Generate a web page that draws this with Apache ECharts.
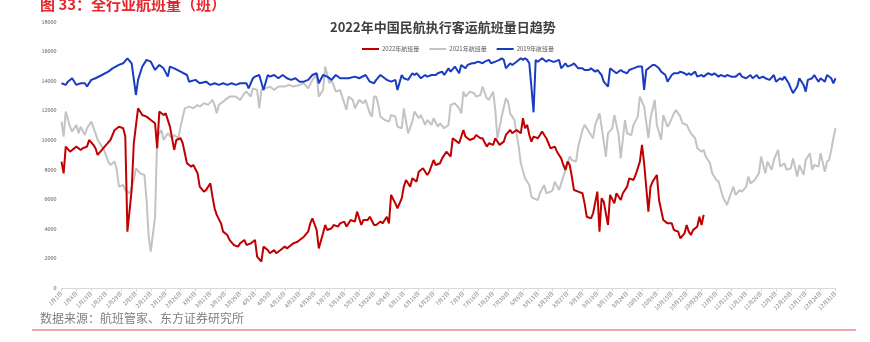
<!DOCTYPE html>
<html><head><meta charset="utf-8">
<script src="https://cdn.jsdelivr.net/npm/echarts@6/dist/echarts.min.js"></script>
<style>html,body{margin:0;padding:0;background:#fff;}#c{width:870px;height:342px;}</style>
</head><body><div id="c"></div>
<script>
// y-axis tick settings (values)
const yMin = 0, yMax = 18000, yStep = 2000;
const seriesNames = ['2022年航班量', '2021年航班量', '2019年航班量'];
// [day-of-year index (0 = 1月1日), flights]
const s2022 = [[0,8570],[1,7780],[2,9580],[4,9240],[5,9360],[7,9580],[9,9360],[10,9470],[12,9580],[13,10030],[15,9700],[16,9470],[17,9020],[19,9360],[21,9700],[23,10030],[25,10710],[27,10930],[29,10820],[30,10260],[31,3840],[33,6650],[34,9810],[36,12170],[38,11720],[40,11610],[42,11380],[44,11160],[45,9470],[46,11950],[48,11720],[49,11830],[51,10930],[53,9360],[54,10030],[56,10150],[57,9810],[59,8460],[61,8230],[62,8340],[64,7780],[65,6880],[67,6540],[68,6660],[70,7100],[71,6200],[72,5420],[73,4970],[75,4400],[76,3840],[78,3610],[79,3280],[81,2940],[83,2830],[84,3050],[86,3280],[87,2940],[89,3050],[90,3160],[91,3280],[92,2150],[94,1810],[95,2830],[97,2600],[98,2380],[100,2600],[101,2380],[103,2600],[105,2830],[106,2710],[108,2940],[109,3050],[111,3160],[112,3280],[114,3500],[116,3840],[117,4400],[118,4740],[120,3950],[121,2710],[123,3730],[124,4290],[125,3950],[127,4070],[128,4290],[130,4180],[131,4400],[133,4520],[134,4180],[136,4630],[138,4520],[139,5190],[141,4290],[142,4630],[144,4630],[145,4850],[147,4290],[148,4290],[150,4520],[151,4400],[153,4850],[154,4400],[155,6320],[157,5750],[158,5420],[160,6090],[161,6880],[162,7330],[164,6880],[165,7440],[167,7220],[168,7890],[170,8120],[172,7670],[173,7890],[175,8680],[176,8340],[178,8460],[179,8790],[181,9240],[183,8910],[184,10150],[186,9920],[187,9810],[189,10710],[190,10260],[192,10030],[194,10150],[195,10370],[197,10150],[198,10150],[200,9580],[201,9810],[203,9700],[204,10150],[206,9700],[208,9920],[209,10370],[211,10710],[212,10480],[214,10710],[216,10480],[217,11500],[218,10820],[219,11050],[220,10370],[221,9920],[222,10260],[224,10150],[225,10370],[226,10600],[228,10150],[229,9810],[230,9470],[232,9580],[233,9240],[235,8790],[236,8340],[237,8010],[238,8570],[239,8340],[240,7560],[241,6650],[243,6540],[245,6430],[246,5750],[247,4850],[249,4740],[250,5080],[252,6540],[253,3840],[254,6090],[255,5870],[257,4290],[258,6320],[260,5750],[261,6430],[263,5980],[264,6430],[266,6880],[267,7440],[269,7330],[270,7670],[272,8570],[273,9700],[274,8460],[276,5190],[277,6880],[278,7220],[280,7670],[281,5980],[283,4630],[285,4400],[287,4400],[288,3950],[290,3840],[291,3390],[293,3730],[294,4290],[295,3840],[296,3610],[297,3950],[299,4180],[300,4850],[301,4290],[302,4970]];
const s2021 = [[0,11270],[1,10260],[2,11950],[4,10930],[5,10600],[7,11050],[8,10480],[9,10930],[11,10370],[12,10820],[14,11270],[16,10480],[17,10030],[19,9580],[20,9360],[22,8570],[23,8340],[25,8570],[26,8010],[27,6880],[29,6990],[30,6650],[32,6430],[34,7330],[35,8120],[37,7780],[39,7670],[40,5980],[41,3500],[42,2490],[44,4850],[45,10260],[47,10710],[48,10030],[50,10480],[52,10150],[53,10370],[55,10150],[56,10930],[58,12170],[60,12280],[62,12170],[64,12400],[65,12280],[67,12510],[69,12400],[71,12740],[72,12400],[73,11830],[74,12400],[76,12620],[77,12740],[79,12960],[82,12960],[84,12740],[86,13190],[87,13300],[89,12960],[90,13520],[92,13410],[93,12170],[94,13410],[96,13520],[98,13640],[100,13410],[102,13640],[105,13640],[107,13750],[109,13640],[112,13750],[114,13860],[116,13520],[118,14090],[120,14420],[121,12960],[123,13410],[124,14990],[126,13860],[127,14090],[129,13300],[131,13410],[132,12960],[134,12060],[135,12960],[137,12740],[138,12170],[140,12740],[142,12510],[143,12740],[145,11830],[146,11610],[147,12960],[148,12960],[149,12400],[150,11610],[152,11380],[154,11270],[155,11720],[157,11610],[158,10930],[160,10820],[161,12170],[163,10480],[165,11270],[166,11950],[168,11500],[169,11720],[171,11050],[172,11380],[174,11050],[175,11500],[177,10930],[178,11160],[180,10820],[182,11050],[183,12400],[185,12510],[187,12170],[188,11830],[189,13300],[190,12960],[192,13300],[194,13190],[195,12960],[197,13070],[198,13640],[200,12850],[201,12740],[203,13300],[204,12060],[205,10150],[207,11610],[209,12850],[210,12620],[211,11830],[213,11380],[215,9580],[216,8460],[218,7440],[220,6990],[221,6200],[222,6090],[224,5980],[225,6430],[227,6990],[228,6430],[230,6540],[231,6650],[232,7220],[234,6650],[235,7100],[237,8010],[239,8910],[240,8680],[242,8570],[243,9580],[245,10710],[246,11050],[248,10600],[250,10150],[251,11050],[253,11830],[254,10930],[256,8910],[257,10480],[259,10820],[260,11720],[262,10370],[263,8790],[265,11380],[266,10480],[268,10370],[269,11050],[271,11610],[272,12960],[274,12280],[276,10150],[277,11500],[279,12740],[280,11050],[282,10030],[283,11720],[285,10930],[286,11160],[288,11830],[289,12060],[291,11610],[292,11160],[294,11050],[296,10480],[298,10150],[299,9470],[301,9240],[302,9360],[303,8910],[305,8460],[306,7780],[308,7330],[309,7220],[311,6200],[313,5640],[314,6090],[316,6880],[317,6320],[319,6650],[320,6540],[322,6880],[323,7560],[324,7100],[326,7330],[328,7780],[329,8910],[331,7780],[332,8570],[334,8010],[335,8680],[337,9360],[338,8230],[340,8460],[341,8010],[343,8120],[344,8790],[346,7560],[347,8340],[349,7670],[350,8680],[352,9130],[353,8010],[354,8340],[356,8230],[357,9130],[359,7890],[360,8570],[361,8680],[362,9360],[363,10150],[364,10820]];
const s2019 = [[0,13860],[2,13750],[3,13970],[5,14200],[7,13750],[9,13860],[11,13860],[12,13640],[14,14090],[16,14200],[19,14420],[22,14650],[24,14870],[27,15100],[29,15210],[31,15550],[33,15210],[35,13070],[36,14090],[38,14990],[40,15440],[42,15320],[44,14760],[46,15100],[48,14870],[50,14310],[51,14990],[53,14870],[56,14650],[59,14420],[60,13970],[63,14090],[65,13860],[68,13970],[70,13750],[72,13860],[74,13750],[76,13860],[78,13750],[80,13860],[82,13750],[84,13860],[87,13860],[88,13520],[90,14200],[91,14310],[93,14420],[95,13410],[97,14420],[98,14310],[100,14420],[102,14200],[104,14420],[106,14200],[108,14090],[110,14200],[112,13970],[114,13970],[116,14090],[118,14420],[120,14540],[121,13860],[123,14420],[125,14310],[127,14090],[129,14420],[131,14200],[133,14200],[135,14200],[138,14310],[140,14200],[143,14420],[145,13970],[147,13860],[148,14090],[150,14420],[152,14200],[153,14090],[155,13970],[157,14090],[158,13410],[160,14420],[161,14200],[163,14090],[165,14540],[166,14420],[167,14540],[169,14200],[171,14420],[172,14310],[174,14420],[176,14420],[177,14540],[179,14650],[180,14420],[182,14870],[183,14650],[185,14990],[187,14540],[188,15100],[190,14870],[191,15100],[193,15210],[194,15210],[196,15320],[198,15210],[199,15320],[201,15440],[202,15210],[204,15320],[206,15440],[207,15550],[208,15440],[209,14870],[211,15210],[212,15100],[214,15320],[216,15550],[217,15440],[218,15550],[219,15440],[220,15210],[221,13600],[222,11900],[223,15440],[224,15320],[226,15550],[228,15320],[229,15440],[231,15320],[232,15320],[234,15440],[235,14870],[237,15210],[238,14990],[240,15100],[241,15210],[243,14870],[245,14870],[246,14760],[248,14760],[249,14870],[251,14650],[252,14760],[254,14420],[255,13970],[257,13640],[258,14870],[259,14760],[261,14540],[263,14760],[264,14650],[266,14540],[267,14760],[269,14870],[271,14990],[273,14990],[274,13410],[275,14760],[276,14870],[278,15100],[279,15100],[281,14870],[282,14650],[284,14420],[285,13970],[287,14420],[288,14540],[290,14540],[291,14650],[293,14540],[294,14420],[295,14540],[296,14420],[298,14650],[299,14310],[301,14420],[302,14310],[304,14540],[306,14420],[307,14540],[309,14310],[310,14420],[312,14310],[313,14420],[315,14310],[317,14310],[319,14540],[320,14310],[322,14200],[324,14420],[325,14200],[327,14420],[328,14200],[330,14310],[331,14200],[333,14090],[335,14420],[336,13970],[338,14200],[339,14090],[340,14310],[342,13860],[343,13520],[344,13190],[346,13640],[347,14200],[349,13750],[350,13300],[351,14090],[353,14200],[354,14420],[356,13970],[357,14200],[359,13970],[360,14420],[362,14200],[363,13860],[364,14200]];

// categories: every day of 2022, labelled "M月D日"
const monthDays = [31,28,31,30,31,30,31,31,30,31,30,31];
const categories = [];
monthDays.forEach((n, m) => { for (let d = 1; d <= n; d++) categories.push((m + 1) + '月' + d + '日'); });

const FONT = '"Noto Sans CJK SC", "Noto Sans", sans-serif';
const chart = echarts.init(document.getElementById('c'), null, {renderer: 'canvas'});
chart.setOption({
  backgroundColor: '#fff',
  animation: false,
  title: {
    text: '2022年中国民航执行客运航班量日趋势',
    left: 325, top: 16,
    textStyle: {fontFamily: FONT, fontSize: 13, fontWeight: 'bold', color: '#404040'}
  },
  legend: {
    left: 357, top: 41, itemGap: 10, itemWidth: 17, itemHeight: 2, icon: 'rect',
    textStyle: {fontFamily: FONT, fontSize: 6, color: '#595959', padding: [0,0,0,-2]},
    data: seriesNames
  },
  grid: {left: 61.5, right: 34.5, top: 22, bottom: 53.5, containLabel: false, outerBoundsMode: 'none'},
  xAxis: {
    type: 'category', data: categories, boundaryGap: false,
    axisLine: {lineStyle: {color: '#d9d9d9', width: 1}},
    axisTick: {show: true, interval: 6, length: 3, lineStyle: {color: '#d9d9d9'}},
    axisLabel: {interval: 6, rotate: 45, fontSize: 5.5, color: '#7f7f7f', margin: 4, fontFamily: FONT}
  },
  yAxis: {
    type: 'value', min: yMin, max: yMax, interval: yStep,
    axisLine: {show: false}, axisTick: {show: false}, splitLine: {show: false},
    axisLabel: {fontSize: 6, color: '#595959', margin: 5, fontFamily: 'Liberation Serif, serif', formatter: v => String(v)}
  },
  series: [
    {name: seriesNames[0], type: 'line', data: s2022, showSymbol: false, symbol: 'none', lineStyle: {color: '#c00000', width: 2}, itemStyle: {color: '#c00000'}, z: 4},
    {name: seriesNames[1], type: 'line', data: s2021, showSymbol: false, symbol: 'none', lineStyle: {color: '#c3c3c3', width: 2}, itemStyle: {color: '#c3c3c3'}, z: 2},
    {name: seriesNames[2], type: 'line', data: s2019, showSymbol: false, symbol: 'none', lineStyle: {color: '#1a3cc0', width: 2}, itemStyle: {color: '#1a3cc0'}, z: 3}
  ],
  graphic: [
    {type: 'text', x: 40, y: 12, style: {text: '图 33：全行业航班量（班）', font: 'bold 15px ' + FONT, fill: '#e5262d', textVerticalAlign: 'bottom', verticalAlign: 'bottom'}},
    {type: 'text', x: 40, y: 312, style: {text: '数据来源：航班管家、东方证券研究所', font: '12px ' + FONT, fill: '#7f7f7f'}},
    {type: 'line', shape: {x1: 32, y1: 330, x2: 856, y2: 330}, style: {stroke: '#f2a3a3', lineWidth: 2}}
  ]
});
</script>
</body></html>
